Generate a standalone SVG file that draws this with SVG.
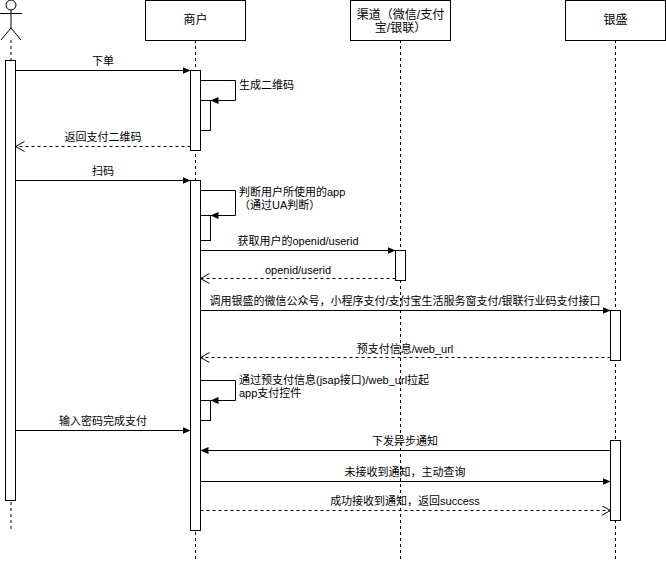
<svg xmlns="http://www.w3.org/2000/svg" width="666" height="561" viewBox="0 0 666 561">
<defs>
<style>
.box{fill:#fff;stroke:#000;stroke-width:1}
.act{fill:#fff;stroke:#000;stroke-width:1}
.life{stroke:#000;stroke-width:1;stroke-dasharray:3 3;fill:none}
.msg{stroke:#000;stroke-width:1;fill:none}
.ret{stroke:#000;stroke-width:1;fill:none;stroke-dasharray:3 3}
text{font-family:"Liberation Sans","Noto Sans CJK SC",sans-serif;font-size:11px;fill:#000}
.lbl{text-anchor:middle}
.title{font-size:12px;text-anchor:middle}
</style>
<marker id="fa" markerWidth="10" markerHeight="10" refX="8" refY="3.5" orient="auto" markerUnits="userSpaceOnUse"><path d="M0,0 L8,3.5 L0,7 z" fill="#000"/></marker>
<marker id="oa" markerWidth="12" markerHeight="12" refX="9" refY="5" orient="auto" markerUnits="userSpaceOnUse"><path d="M0,0 L9,5 L0,10" fill="none" stroke="#000"/></marker>
</defs>
<rect width="666" height="561" fill="#fff"/>

<g id="actor">
<line class="life" x1="11" y1="40" x2="11" y2="530"/>
<circle cx="11" cy="5" r="5" fill="#fff" stroke="#000"/>
<line class="msg" x1="11" y1="10" x2="11" y2="28"/>
<line class="msg" x1="0" y1="13.5" x2="22" y2="13.5"/>
<line class="msg" x1="11" y1="28" x2="1" y2="40"/>
<line class="msg" x1="11" y1="28" x2="21" y2="40"/>
<rect class="act" x="5.5" y="60.5" width="10" height="440"/>
</g>

<g id="merchant">
<line class="life" x1="195.5" y1="40" x2="195.5" y2="560"/>
<rect class="box" x="145.5" y="0.5" width="100" height="40"/>
<text class="title" x="195.5" y="24">商户</text>
<rect class="act" x="190.5" y="70.5" width="10" height="80"/>
<rect class="act" x="200.5" y="100.5" width="10" height="30"/>
<rect class="act" x="190.5" y="180.5" width="10" height="350"/>
<rect class="act" x="200.5" y="215.5" width="10" height="25"/>
<rect class="act" x="200.5" y="400.5" width="10" height="20"/>
</g>

<g id="channel">
<line class="life" x1="400.5" y1="40" x2="400.5" y2="560"/>
<rect class="box" x="350.5" y="0.5" width="100" height="40"/>
<text class="title" x="400.5" y="19">渠道（微信/支付</text>
<text class="title" x="400.5" y="32">宝/银联）</text>
<rect class="act" x="395.5" y="250.5" width="10" height="30"/>
</g>

<g id="yinsheng">
<line class="life" x1="615.5" y1="40" x2="615.5" y2="560"/>
<rect class="box" x="565.5" y="0.5" width="100" height="40"/>
<text class="title" x="615.5" y="24">银盛</text>
<rect class="act" x="610.5" y="310.5" width="10" height="50"/>
<rect class="act" x="610.5" y="440.5" width="10" height="80"/>
</g>

<g id="connectors">
<path class="msg" d="M15.5,70.5 H190.5" marker-end="url(#fa)"/>
<text class="lbl" x="103" y="65">下单</text>
<path class="msg" d="M200.5,80.5 H235.5 V100.5 H210.5" marker-end="url(#fa)"/>
<text x="239" y="89">生成二维码</text>
<path class="ret" d="M190.5,146.5 H15.5" marker-end="url(#oa)"/>
<text class="lbl" x="103" y="141">返回支付二维码</text>
<path class="msg" d="M15.5,180.5 H190.5" marker-end="url(#fa)"/>
<text class="lbl" x="103" y="175">扫码</text>
<path class="msg" d="M200.5,190.5 H235.5 V215.5 H210.5" marker-end="url(#fa)"/>
<text x="239" y="196">判断用户所使用的app</text>
<text x="239" y="209">（通过UA判断）</text>
<path class="msg" d="M200.5,250.5 H395.5" marker-end="url(#fa)"/>
<text class="lbl" x="298" y="245">获取用户的openid/userid</text>
<path class="ret" d="M395.5,278.5 H200.5" marker-end="url(#oa)"/>
<text class="lbl" x="298" y="274">openid/userid</text>
<path class="msg" d="M200.5,310.5 H610.5" marker-end="url(#fa)"/>
<text class="lbl" x="405" y="305">调用银盛的微信公众号，小程序支付/支付宝生活服务窗支付/银联行业码支付接口</text>
<path class="ret" d="M610.5,357.5 H200.5" marker-end="url(#oa)"/>
<text class="lbl" x="405" y="353">预支付信息/web_url</text>
<path class="msg" d="M200.5,380.5 H235.5 V400.5 H210.5" marker-end="url(#fa)"/>
<text x="239" y="384">通过预支付信息(jsap接口)/web_url拉起</text>
<text x="239" y="397">app支付控件</text>
<path class="msg" d="M15.5,430.5 H190.5" marker-end="url(#fa)"/>
<text class="lbl" x="103" y="425">输入密码完成支付</text>
<path class="msg" d="M610.5,450.5 H200.5" marker-end="url(#fa)"/>
<text class="lbl" x="405" y="445">下发异步通知</text>
<path class="msg" d="M200.5,481.5 H610.5" marker-end="url(#fa)"/>
<text class="lbl" x="405" y="476">未接收到通知，主动查询</text>
<path class="ret" d="M200.5,510.5 H610.5" marker-end="url(#oa)"/>
<text class="lbl" x="405" y="505">成功接收到通知，返回success</text>
</g>
</svg>
